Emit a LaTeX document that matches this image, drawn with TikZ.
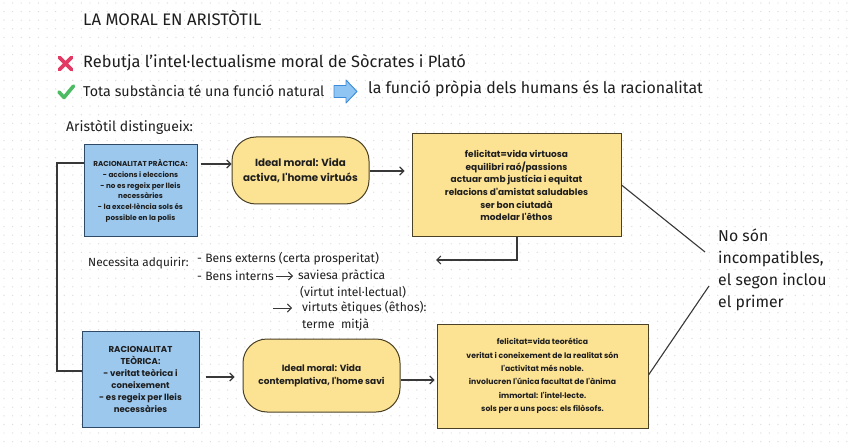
\documentclass[tikz,border=0pt]{standalone}
\usepackage{fontspec}
\setmainfont{Fira Sans}
\newfontfamily\boxfont{Poppins}
\usetikzlibrary{arrows.meta,calc}
\definecolor{bluefill}{HTML}{9CC8EE}
\definecolor{blueline}{HTML}{2F4A66}
\definecolor{yellowfill}{HTML}{FCE293}
\definecolor{yellowline}{HTML}{4A4127}
\definecolor{lineC}{HTML}{383838}
\definecolor{dotC}{HTML}{DDDDDD}
\definecolor{xred}{HTML}{E23A62}
\definecolor{okgreen}{HTML}{4DBB63}
\definecolor{arrfill}{HTML}{8EC5F2}
\definecolor{arrline}{HTML}{3C8BDA}
\definecolor{txt}{HTML}{1E1E1E}
\tikzset{
  bluebox/.style={draw=blueline, line width=1pt, fill=bluefill, align=center, inner sep=0pt, text=txt},
  idealbox/.style={draw=yellowline, line width=1pt, fill=yellowfill, rounded corners=24pt, align=center, inner sep=0pt, text=txt},
  yellowbox/.style={draw=yellowline, line width=1pt, fill=yellowfill, align=center, inner sep=0pt, text=txt},
  plain/.style={anchor=west, inner sep=0pt, text=txt},
  conn/.style={draw=lineC, line width=1.1pt},
  arr/.style={conn, -{Straight Barb[length=4pt,width=8pt]}},
}
\begin{document}
\begin{tikzpicture}[x=1pt,y=-1pt]
\useasboundingbox (0,0) rectangle (848,446);
\fill[white] (0,0) rectangle (848,446);
\foreach \i in {0,...,98} {\foreach \j in {0,...,51} {\fill[dotC] (4+8.6*\i, 3+8.6*\j) circle (0.7pt);}}

% header texts
\node[plain, font=\fontsize{16.7}{19}\selectfont] (title) at (83,18) {LA MORAL EN ARISTÒTIL};
\node[plain, font=\fontsize{16.4}{19}\selectfont] (rebutja) at (83,63) {Rebutja l'intel·lectualisme moral de Sòcrates i Plató};
\node[plain, font=\fontsize{14.3}{17}\selectfont] (tota) at (83,91) {Tota substància té una funció natural};
\node[plain, font=\fontsize{15.9}{19}\selectfont] (funcio) at (368,89) {la funció pròpia dels humans és la racionalitat};
\node[plain, font=\fontsize{14}{17}\selectfont] (dist) at (66,127) {Aristòtil distingueix:};

% icons
\draw[xred, line width=3.6pt, line cap=round] (59.5,57.5) -- (71.5,69.5) (71.5,57.5) -- (59.5,69.5);
\draw[okgreen, line width=3.6pt, line cap=round, line join=round] (59,92) -- (64,97.5) -- (73.5,86);
\draw[arrline, fill=arrfill, line width=0.9pt, line join=round] (334,85.5) -- (346,85.5) -- (346,80) -- (357,91.5) -- (346,103) -- (346,97.5) -- (334,97.5) -- cycle;

% boxes
\node[bluebox, minimum width=113pt, minimum height=92pt, font=\boxfont\bfseries\fontsize{7.2}{10.8}\selectfont] (b1) at (140.5,191)
  {RACIONALITAT PRÀCTICA:\\- accions i eleccions\\- no es regeix per lleis\\necessàries\\- la excel·lència sols és\\possible en la polis};
\node[idealbox, minimum width=137pt, minimum height=67pt, font=\boxfont\bfseries\fontsize{10.3}{14.3}\selectfont] (i1) at (300.5,170.5)
  {Ideal moral: Vida\\activa, l'home virtuós};
\node[yellowbox, minimum width=209pt, minimum height=103pt, font=\boxfont\bfseries\fontsize{9}{12.7}\selectfont] (r1) at (516.5,185.5)
  {felicitat=vida virtuosa\\equilibri raó/passions\\actuar amb justícia i equitat\\relacions d'amistat saludables\\ser bon ciutadà\\modelar l'êthos};
\node[bluebox, minimum width=117pt, minimum height=96pt, font=\boxfont\bfseries\fontsize{8.6}{12}\selectfont] (b2) at (140.5,379)
  {RACIONALITAT\\TEÒRICA:\\- veritat teòrica i\\coneixement\\- es regeix per lleis\\necessàries};
\node[idealbox, minimum width=157pt, minimum height=73pt, font=\boxfont\bfseries\fontsize{9}{13.3}\selectfont] (i2) at (321.5,375.5)
  {Ideal moral: Vida\\contemplativa, l'home savi};
\node[yellowbox, minimum width=211pt, minimum height=104pt, font=\boxfont\bfseries\fontsize{7.7}{13.3}\selectfont] (r2) at (542.5,376)
  {felicitat=vida teorética\\veritat i coneixement de la realitat són\\l'activitat més noble.\\involucren l'única facultat de l'ànima\\immortal: l'intel·lecte.\\sols per a uns pocs: els filòsofs.};

% middle texts
\node[plain, font=\fontsize{11.8}{14}\selectfont] (nec) at (88,263) {Necessita adquirir:};
\node[plain, font=\fontsize{12.1}{15}\selectfont] (bext) at (197,259) {- Bens externs (certa prosperitat)};
\node[plain, font=\fontsize{12.1}{15}\selectfont] (bint) at (197,276) {- Bens interns};
\node[plain, font=\fontsize{12.1}{15}\selectfont] (sav) at (298,276) {saviesa pràctica};
\node[plain, font=\fontsize{12.1}{15}\selectfont] (vint) at (300,292) {(virtut intel·lectual)};
\node[plain, font=\fontsize{12.1}{15}\selectfont] (vet) at (302,308) {virtuts ètiques (êthos):};
\node[plain, font=\fontsize{12.1}{15}\selectfont] (term) at (302,325) {terme\ \ mitjà};

% right text
\node[anchor=north west, inner sep=0pt, align=left, text=txt, font=\fontsize{15.8}{22}\selectfont] (rt) at (718,229)
  {No són\\incompatibles,\\el segon inclou\\el primer};

% connectors
\coordinate (c1) at (517,260);
\coordinate (c2) at (436,260);
\coordinate (l1) at (57,163);
\coordinate (l2) at (57,371);
\coordinate (e1) at (705,252);
\coordinate (e2) at (709,286);
\coordinate (a1) at (273,308);

\draw[arr, shorten <=3pt] (b1.east |- 0,164) -- (i1.west |- 0,164);
\draw[arr, shorten >=7pt] (i1.east |- 0,171) -- (r1.west |- 0,171);
\draw[arr] (r1.south -| c1) -- (c1) -- (c2);
\draw[conn] (b1.west |- l1) -- (l1) -- (l2) -- (b2.west |- l2);
\draw[arr, shorten <=6pt, shorten >=8pt] (b2.east |- 0,377) -- (i2.west |- 0,377);
\draw[arr, shorten >=2pt] (i2.east |- 0,380) -- (r2.west |- 0,380);
\draw[arr, line width=0.9pt, shorten <=2pt, shorten >=5pt] (bint.east) -- (sav.west);
\draw[arr, line width=0.9pt, shorten >=10pt] (a1) -- (vet.west);
\draw[conn] (r1.east |- 0,185) -- (e1);
\draw[conn] (r2.east |- 0,375) -- (e2);
\end{tikzpicture}
\end{document}
